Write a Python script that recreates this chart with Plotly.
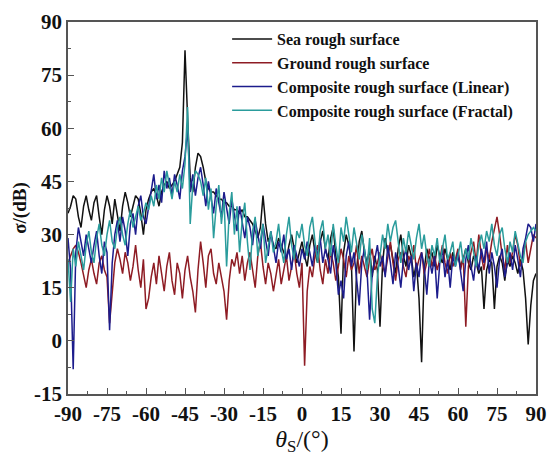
import plotly.graph_objects as go

theta = list(range(-90, 91))

sea = [36, 38, 41, 40, 35, 32, 38, 41, 37, 34,
       39, 41, 35, 30, 37, 41, 38, 33, 40, 36,
       31, 38, 42, 39, 35, 38, 41, 40, 36, 30,
       37, 40, 42, 43, 41, 38, 42, 44, 45, 43,
       44, 45, 47, 49, 56, 82, 63, 46, 42, 49,
       53, 52, 49, 45, 43, 42, 42, 41, 40, 40,
       39, 39, 38, 38, 37, 37, 36, 37, 35, 35,
       34, 33, 31, 29, 32, 41, 33, 28, 30, 27,
       26, 29, 27, 25, 23, 27, 30, 26, 22, 25,
       28, 24, 21, 27, 30, 25, 22, 28, 31, 26,
       23, 29, 32, 24, 18, 2, 25, 30, 27, 22,
       -3, 20, 28, 31, 25, 22, 26, 18, 24, 20,
       4, 22, 29, 25, 27, 23, 19, 26, 30, 24,
       21, 27, 24, 18, 22, 12, -6, 20, 26, 23,
       25, 21, 27, 24, 22, 26, 23, 20, 25, 22,
       24, 21, 23, 26, 22, 20, 24, 22, 19, 21,
       9, 20, 23, 22, 9, 21, 24, 22, 17, 23,
       21, 24, 22, 19, 23, 20, 12, -1, 10, 17,
       19]

ground = [22, 24, 26, 27, 25, 22, 18, 15, 20, 23,
          19, 16, 22, 24, 20, 18, 5, 14, 22, 26,
          23, 19, 25, 22, 17, 21, 27, 20, 15, 23,
          9, 12, 18, 22, 16, 24, 19, 14, 21, 25,
          17, 13, 22, 19, 12, 20, 24, 18, 14, 8,
          20, 28, 22, 15, 24, 26, 19, 16, 22, 18,
          14, 6, 17, 23, 21, 25, 19, 24, 17, 22,
          25, 20, 15, 24, 28, 21, 16, 22, 19, 14,
          18, 23, 16, 20, 24, 17, 21, 25, 19, 15,
          22, -7, 14, 21, 18, 24, 27, 20, 16, 23,
          19, 25, 22, 17, 21, 26, 23, 18, 24, 20,
          22, 27, 19, 24, 21, 18, 23, 26, 20, 22,
          25, 21, 19, 24, 28, 22, 17, 23, 25, 21,
          18, 24, 22, 27, 20, 23, 25, 19, 22, 26,
          21, 24, 20, 23, 27, 22, 19, 25, 21, 23,
          26, 20, 24, 4, 21, 25, 28, 22, 30, 24,
          20, 26, 23, 28, 32, 35, 30, 24, 20, 27,
          22, 25, 30, 27, 21, 24, 28, 22, 26, 30,
          29]

linear = [29, 20, -8, 25, 32, 28, 24, 30, 26, 22,
          27, 31, 24, 19, 28, 25, 3, 22, 30, 34,
          28, 35, 31, 24, 33, 36, 30, 38, 41, 35,
          33, 38, 42, 47, 40, 44, 39, 48, 43, 46,
          41, 47, 44, 40, 48, 52, 60, 42, 47, 41,
          46, 49, 44, 38, 45, 41, 36, 43, 39, 35,
          42, 37, 33, 40, 36, 31, 38, 34, 29, 35,
          32, 27, 34, 30, 26, 33, 29, 24, 31, 27,
          22, 28, 25, 30, 23, 26, 20, 27, 24, 21,
          26, 23, 28, 25, 21, 27, 24, 29, 22, 26,
          23, 19, 27, 22, 13, 17, 12, 24, 28, 21,
          25, 18, 10, 22, 26, 20, 6, 19, 23, 27,
          21, 24, 18, 27, 22, 16, 25, 21, 15, 23,
          26, 20, 24, 14, 22, 18, 25, 21, 13, 23,
          19, 24, 12, 22, 26, 18, 23, 15, 24, 21,
          25, 19, 14, 23, 27, 21, 17, 24, 20, 26,
          22, 28, 19, 25, 21, 15, 23, 26, 18, 22,
          25, 20, 27, 23, 18, 26, 29, 33, 32, 28,
          33]

fractal = [23, 11, 26, 21, 28, 24, 20, 27, 31, 25,
           22, 29, 33, 27, 24, 30, 34, 28, 26, 32,
           35, 30, 27, 33, 37, 32, 35, 38, 34, 36,
           39, 37, 41, 38, 44, 40, 46, 42, 48, 44,
           40, 45, 42, 47, 43, 50, 66, 33, 44, 48,
           47, 45, 41, 46, 37, 43, 29, 38, 44, 33,
           40, 21, 36, 42, 30, 38, 25, 34, 39, 28,
           20, 31, 35, 24, 29, 33, 22, 27, 31, 25,
           28, 33, 26, 22, 30, 35, 27, 23, 31, 29,
           33, 27, 24, 32, 35, 28, 22, 31, 34, 26,
           30, 24, 33, 27, 22, 32, 28, 35, 30, 25,
           32, 27, 23, 30, 26, 20, 29, 9, 5, 18,
           24, 30, 26, 33, 28, 32, 34, 27, 22, 29,
           25, 31, 27, 23, 29, 33, 26, 30, 24, 21,
           27, 24, 29, 22, 26, 30, 23, 25, 28, 21,
           24, 28, 22, 26, 23, 29, 25, 21, 27, 30,
           26, 31, 28, 33, 27, 24, 30, 32, 26, 22,
           28, 25, 31, 27, 24, 22, 28, 30, 31, 32,
           31]

x_ticks = [-90, -75, -60, -45, -30, -15, 0, 15, 30, 45, 60, 75, 90]
y_ticks = [-15, 0, 15, 30, 45, 60, 75, 90]

names = ["Sea rough surface", "Ground rough surface",
         "Composite rough surface (Linear)", "Composite rough surface (Fractal)"]
colors = ["#111111", "#8e1c24", "#1c1c8c", "#2a9c9c"]
series = [sea, ground, linear, fractal]

fig = go.Figure()
for name, col, ys in zip(names, colors, series):
    fig.add_trace(go.Scatter(x=theta, y=ys, mode="lines", name=name,
                             line=dict(color=col, width=1.5)))

font_main = "Liberation Serif, Times New Roman, serif"
tick_font = dict(family=font_main, size=21, color="#111111", weight="bold")
axis_common = dict(showline=True, linecolor="#555555", linewidth=1.5, mirror=True,
                   ticks="inside", ticklen=6, tickwidth=1.2, tickcolor="#555555",
                   showgrid=False, zeroline=False, tickfont=tick_font)

fig.update_layout(
    width=557, height=457,
    margin=dict(l=68, r=10, t=18, b=63),
    plot_bgcolor="white", paper_bgcolor="white",
    font=dict(family=font_main, color="#111111"),
    showlegend=True,
    legend=dict(x=0.34, y=1.0, xanchor="left", yanchor="top",
                bgcolor="rgba(0,0,0,0)",
                font=dict(family=font_main, size=16, color="#111111", weight="bold"),
                itemwidth=40, tracegroupgap=0),
    xaxis=dict(range=[-90, 90], tickmode="array",
               tickvals=x_ticks, ticktext=[str(v) for v in x_ticks],
               minor=dict(ticks="inside", ticklen=3, dtick=7.5, tickcolor="#555555"),
               title=dict(text="<i>θ</i><sub>S</sub>/(°)",
                          font=dict(family=font_main, size=24, color="#111111"),
                          standoff=0),
               **axis_common),
    yaxis=dict(range=[-15, 90], tickmode="array",
               tickvals=y_ticks, ticktext=[str(v) for v in y_ticks],
               minor=dict(ticks="inside", ticklen=3, dtick=7.5, tickcolor="#555555"),
               title=dict(text="<b>σ/(dB)</b>",
                          font=dict(family=font_main, size=19, color="#111111"),
                          standoff=2),
               **axis_common),
)

fig.write_html("out.html")
